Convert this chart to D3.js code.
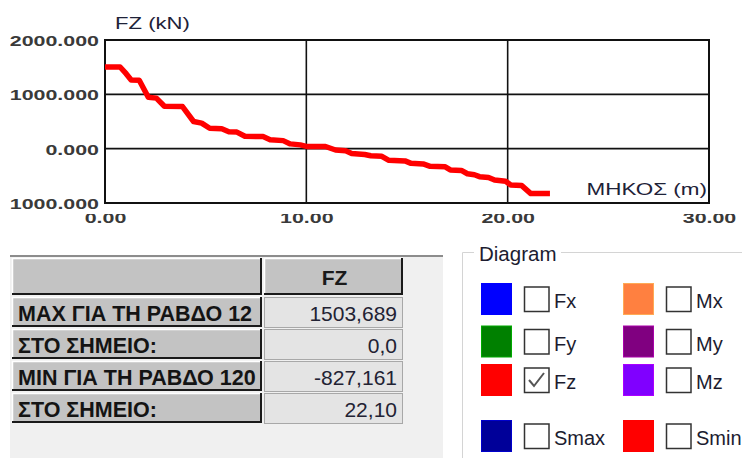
<!DOCTYPE html>
<html>
<head>
<meta charset="utf-8">
<script src="https://cdn.jsdelivr.net/npm/d3@7"></script>
<style>
  html, body { margin: 0; padding: 0; background: #ffffff; }
  svg { display: block; }
</style>
</head>
<body>
<svg id="chart" width="742" height="458"></svg>
<script>
// Axial force FZ along the member length
const stationM = [0.00, 0.75, 1.05, 1.30, 1.70, 2.15, 2.55, 2.95, 3.85, 4.40, 4.80, 5.20, 5.80,
  6.15, 6.55, 6.95, 7.85, 8.20, 8.85, 9.20, 9.70, 10.00, 10.95, 11.45, 11.95, 12.25, 12.90,
  13.20, 13.75, 14.10, 14.90, 15.20, 15.80, 16.15, 16.90, 17.15, 17.70, 18.00, 18.35, 18.60,
  19.05, 19.35, 19.90, 20.15, 20.70, 21.15, 22.10];
const fzKN = [1503.689, 1503, 1380, 1265, 1260, 945, 930, 780, 775, 500, 470, 375, 365,
  310, 305, 228, 222, 165, 148, 88, 70, 42, 40, -25, -40, -88, -108,
  -130, -140, -215, -225, -270, -280, -325, -335, -392, -400, -462, -480, -515,
  -530, -578, -600, -668, -680, -827.161, -827.161];

const xTicks = [0, 10, 20, 30];
const yTicks = [-1000, 0, 1000, 2000];
const yTitle = "FZ (kN)";
const xTitle = "ΜΗΚΟΣ (m)";

// Summary table
const tableHeader = "FZ";
const rowLabels = ["MAX ΓΙΑ ΤΗ ΡΑΒΔΟ 12", "ΣΤΟ ΣΗΜΕΙΟ:", "MIN ΓΙΑ ΤΗ ΡΑΒΔΟ 120", "ΣΤΟ ΣΗΜΕΙΟ:"];
const rowValues = ["1503,689", "0,0", "-827,161", "22,10"];

// Diagram selector
const legendTitle = "Diagram";
const legendLabels = ["Fx", "Fy", "Fz", "Mx", "My", "Mz", "Smax", "Smin"];
const legendColors = ["#0000ff", "#008000", "#ff0000", "#ff8040", "#800080", "#8000ff", "#000099", "#ff0000"];
const legendChecked = [false, false, true, false, false, false, false, false];

const svg = d3.select("#chart");
const FONT = "'Liberation Sans', Arial, sans-serif";

const x = d3.scaleLinear().domain([0, 30]).range([105, 709]);
const y = d3.scaleLinear().domain([-1000, 2000]).range([203, 40]);

// stretch a text node horizontally by a factor
function widen(sel, k) {
  sel.each(function () {
    const w = this.getComputedTextLength();
    d3.select(this).attr("textLength", w * k).attr("lengthAdjust", "spacingAndGlyphs");
  });
}

// label strips: y labels start at x = 10, x labels start at y = 214 (page coords)
const defs = svg.append("defs");
defs.append("clipPath").attr("id", "yLabClip")
  .append("rect").attr("x", 10).attr("y", 0).attr("width", 100).attr("height", 230);
defs.append("clipPath").attr("id", "xLabClip")
  .append("rect").attr("x", 0).attr("y", 214).attr("width", 742).attr("height", 30);

// ---- plot ----
const plot = svg.append("g");

// grid
plot.append("g").selectAll("line").data(xTicks.filter(d => d > 0 && d < 30)).join("line")
  .attr("x1", d => x(d)).attr("x2", d => x(d)).attr("y1", y(2000)).attr("y2", y(-1000))
  .attr("stroke", "#111").attr("stroke-width", 1.6);
plot.append("g").selectAll("line").data(yTicks.filter(d => d > -1000 && d < 2000)).join("line")
  .attr("x1", x(0)).attr("x2", x(30)).attr("y1", d => y(d)).attr("y2", d => y(d))
  .attr("stroke", "#111").attr("stroke-width", 1.6);

// frame
plot.append("rect")
  .attr("x", x(0)).attr("y", y(2000))
  .attr("width", x(30) - x(0)).attr("height", y(-1000) - y(2000))
  .attr("fill", "none").attr("stroke", "#111").attr("stroke-width", 2);

// force line
const line = d3.line().x((d, i) => x(stationM[i])).y(d => y(d));
plot.append("path")
  .attr("d", line(fzKN))
  .attr("fill", "none").attr("stroke", "#ff0000")
  .attr("stroke-width", 5.5).attr("stroke-linejoin", "round").attr("stroke-linecap", "butt");

// y axis labels (clip group sits in page coords, axis translated inside it)
const yAxis = d3.axisLeft(y).tickValues(yTicks).tickSize(0).tickPadding(6)
  .tickFormat(d3.format(".3f"));
const yg = svg.append("g").attr("clip-path", "url(#yLabClip)")
  .append("g").attr("transform", `translate(${x(0)},0)`);
yg.call(yAxis).call(g => g.select(".domain").remove());
yg.selectAll("text")
  .attr("font-family", FONT).attr("font-size", 15.5).attr("font-weight", "bold")
  .attr("fill", "#3a3a3a").attr("dy", "0.36em")
  .call(widen, 1.38);

// x axis labels
const xAxis = d3.axisBottom(x).tickValues(xTicks).tickSize(0).tickPadding(0)
  .tickFormat(d3.format(".2f"));
const xg = svg.append("g").attr("clip-path", "url(#xLabClip)")
  .append("g").attr("transform", `translate(0,${y(-1000)})`);
xg.call(xAxis).call(g => g.select(".domain").remove());
xg.selectAll("text")
  .attr("font-family", FONT).attr("font-size", 15.5).attr("font-weight", "bold")
  .attr("fill", "#3a3a3a").attr("y", 20).attr("dy", 0)
  .call(widen, 1.38);

// axis titles
svg.append("text").text(yTitle)
  .attr("x", 115).attr("y", 29)
  .attr("font-family", FONT).attr("font-size", 17).attr("fill", "#1e2238")
  .call(widen, 1.3);
svg.append("text").text(xTitle)
  .attr("x", 707).attr("y", 195).attr("text-anchor", "end")
  .attr("font-family", FONT).attr("font-size", 17).attr("fill", "#1e2238")
  .call(widen, 1.32);

// ---- summary table ----
const tbl = svg.append("g");
tbl.append("rect").attr("x", 10).attr("y", 255).attr("width", 433).attr("height", 203)
  .attr("fill", "#f0f0f0");
tbl.append("line").attr("x1", 10).attr("x2", 443).attr("y1", 256).attr("y2", 256)
  .attr("stroke", "#8c8c8c").attr("stroke-width", 2);

function raisedCell(g, x0, y0, w, h) {
  g.append("rect").attr("x", x0).attr("y", y0).attr("width", w).attr("height", h).attr("fill", "#c3c3c3");
  g.append("path").attr("d", `M${x0 + 0.5},${y0 + h}V${y0 + 0.5}H${x0 + w}`)
    .attr("fill", "none").attr("stroke", "#ffffff").attr("stroke-width", 1.5);
  g.append("path").attr("d", `M${x0},${y0 + h - 1}H${x0 + w - 1}V${y0}`)
    .attr("fill", "none").attr("stroke", "#1a1a1a").attr("stroke-width", 2);
}

const colX = [12, 264];
const colW = [250, 139];
const headTop = 258, headH = 37;
const rowTops = rowLabels.map((d, i) => 297 + i * 32);
const rowH = 30;

raisedCell(tbl, colX[0], headTop, colW[0], headH);
raisedCell(tbl, colX[1], headTop, colW[1], headH);
tbl.append("text").text(tableHeader)
  .attr("x", colX[1] + colW[1] / 2 + 1).attr("y", headTop + 27).attr("text-anchor", "middle")
  .attr("font-family", FONT).attr("font-size", 21).attr("font-weight", "bold").attr("fill", "#1a1a1a");

rowLabels.forEach((lab, i) => {
  const t = rowTops[i];
  raisedCell(tbl, colX[0], t, colW[0], rowH);
  tbl.append("rect").attr("x", colX[1] + 0.5).attr("y", t + 0.5).attr("width", colW[1] - 1).attr("height", rowH)
    .attr("fill", "#e4e4e4").attr("stroke", "#a8a8a8").attr("stroke-width", 1);
  tbl.append("text").text(lab)
    .attr("x", 18).attr("y", t + 24)
    .attr("font-family", FONT).attr("font-size", 21.5).attr("font-weight", "bold").attr("fill", "#141414");
  tbl.append("text").text(rowValues[i])
    .attr("x", 397).attr("y", t + 24).attr("text-anchor", "end")
    .attr("font-family", FONT).attr("font-size", 21).attr("fill", "#222233");
});

// ---- diagram selector ----
const lg = svg.append("g");
lg.append("path").attr("d", "M474,252.5H462.5V458")
  .attr("fill", "none").attr("stroke", "#d4d4d4").attr("stroke-width", 1);
lg.append("path").attr("d", "M561,252.5H742")
  .attr("fill", "none").attr("stroke", "#d4d4d4").attr("stroke-width", 1);
lg.append("text").text(legendTitle).attr("x", 479).attr("y", 261)
  .attr("font-family", FONT).attr("font-size", 20.5).attr("fill", "#1c1c30");

const rowCenters = [299, 341.5, 380, 436];
const colSwatchX = [481, 623];
legendLabels.forEach((lab, i) => {
  const col = i < 3 ? 0 : (i < 6 ? 1 : (i === 6 ? 0 : 1));
  const row = i < 6 ? i % 3 : 3;
  const cy = rowCenters[row];
  const sx = colSwatchX[col];
  lg.append("rect").attr("x", sx + 0.5).attr("y", cy - 15.5).attr("width", 30).attr("height", 31)
    .attr("fill", legendColors[i]).attr("stroke", d3.color(legendColors[i]).brighter(0.8)).attr("stroke-width", 1);
  const bx = sx + 43;
  lg.append("rect").attr("x", bx + 0.5).attr("y", cy - 12).attr("width", 24.5).attr("height", 24.5)
    .attr("fill", "#ffffff").attr("stroke", "#333333").attr("stroke-width", 1.5);
  if (legendChecked[i]) {
    lg.append("path")
      .attr("d", `M${bx + 5},${cy + 0}L${bx + 10},${cy + 6}L${bx + 20},${cy - 7}`)
      .attr("fill", "none").attr("stroke", "#555555").attr("stroke-width", 2);
  }
  lg.append("text").text(lab).attr("x", bx + 30).attr("y", cy + 9)
    .attr("font-family", FONT).attr("font-size", 20).attr("fill", "#1c1c30");
});
</script>
</body>
</html>
